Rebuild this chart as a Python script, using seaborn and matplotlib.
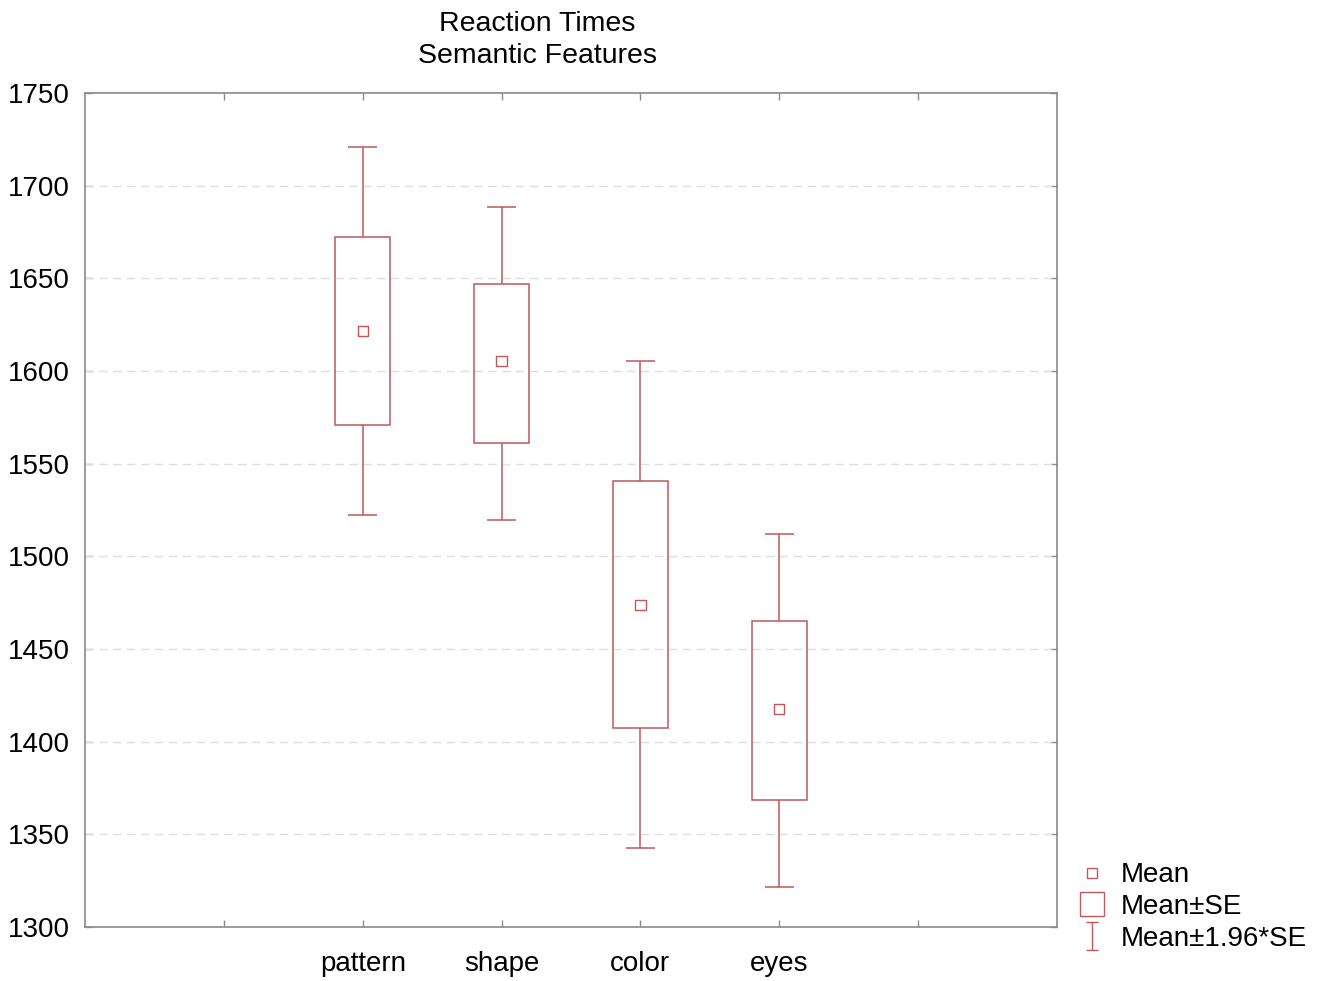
import numpy as np
import pandas as pd
import matplotlib
matplotlib.use("Agg")
import matplotlib.pyplot as plt
import seaborn as sns
from matplotlib.lines import Line2D
from matplotlib.path import Path

features = ["pattern", "shape", "color", "eyes"]
means = [1621.6, 1605.4, 1473.8, 1417.6]
box_low = [1570.9, 1561.1, 1407.4, 1368.5]
box_high = [1672.3, 1646.9, 1540.6, 1465.1]
whisk_low = [1522.3, 1519.6, 1342.6, 1321.6]
whisk_high = [1720.9, 1688.5, 1605.4, 1512.0]

y_ticks = [1300, 1350, 1400, 1450, 1500, 1550, 1600, 1650, 1700, 1750]

red = "#c0575a"
spine_col = "#8a8a8a"

sns.set_style("white")
plt.rcParams["font.family"] = ["Liberation Sans", "DejaVu Sans"]
plt.rcParams["text.color"] = "black"

df = pd.DataFrame({
    "feature": features,
    "mean": means,
    "lo": box_low,
    "hi": box_high,
    "wlo": whisk_low,
    "whi": whisk_high,
})
# categories sit in the middle of a 0..7 axis (STATISTICA style)
df["pos"] = np.arange(len(features)) + 2

fig = plt.figure(figsize=(13.26, 9.81), dpi=100)
ax = fig.add_axes([85 / 1326, 1 - 927 / 981, 972 / 1326, 834 / 981])

# boxes: mean +- SE
ax.bar(
    df["pos"],
    df["hi"] - df["lo"],
    bottom=df["lo"],
    width=0.4,
    fill=False,
    edgecolor=red,
    linewidth=1.1,
    zorder=3,
)

# whiskers: mean +- 1.96*SE
ax.vlines(df["pos"], df["hi"], df["whi"], color=red, linewidth=1.1, zorder=3)
ax.vlines(df["pos"], df["wlo"], df["lo"], color=red, linewidth=1.1, zorder=3)
ax.hlines(df["whi"], df["pos"] - 0.105, df["pos"] + 0.105, color=red, linewidth=1.1, zorder=3)
ax.hlines(df["wlo"], df["pos"] - 0.105, df["pos"] + 0.105, color=red, linewidth=1.1, zorder=3)

# means
sns.scatterplot(
    data=df,
    x="pos",
    y="mean",
    marker="s",
    s=55,
    facecolor="none",
    edgecolor=red,
    linewidth=1.0,
    ax=ax,
    zorder=4,
    legend=False,
)

ax.set_xlim(0, 7)
ax.set_ylim(1300, 1750)
ax.set_yticks(y_ticks)
ax.set_xticks(range(1, 7))
ax.set_xticklabels([""] + features + [""])
ax.set_xlabel("")
ax.set_ylabel("")

for y in y_ticks[1:-1]:
    ax.axhline(y, color="#dedede", linestyle=(0, (6, 4)), linewidth=1.0, zorder=1)

for side in ["left", "right", "top", "bottom"]:
    ax.spines[side].set_visible(True)
    ax.spines[side].set_color(spine_col)
    ax.spines[side].set_linewidth(1.2)

ax.tick_params(
    axis="both",
    direction="in",
    length=5,
    width=1,
    color=spine_col,
    labelsize=20,
    labelcolor="black",
    top=True,
    right=True,
    left=True,
    bottom=True,
)
ax.tick_params(axis="y", pad=11)
ax.tick_params(axis="x", pad=17)

fig.text(537 / 1326, 1 - 40 / 981, "Reaction Times\nSemantic Features",
         ha="center", va="center", fontsize=20.5, linespacing=1.3, color="black")

# legend
whisk_path = Path(
    [(-0.4, 1), (0.4, 1), (0, 1), (0, -1), (-0.4, -1), (0.4, -1)],
    [Path.MOVETO, Path.LINETO, Path.MOVETO, Path.LINETO, Path.MOVETO, Path.LINETO],
)
handles = [
    Line2D([], [], linestyle="none", marker="s", markersize=7,
           markerfacecolor="none", markeredgecolor=red, markeredgewidth=1),
    Line2D([], [], linestyle="none", marker="s", markersize=17,
           markerfacecolor="none", markeredgecolor=red, markeredgewidth=1),
    Line2D([], [], linestyle="none", marker=whisk_path, markersize=20,
           markerfacecolor="none", markeredgecolor=red, markeredgewidth=1),
]
fig.legend(
    handles,
    ["Mean", "Mean±SE", "Mean±1.96*SE"],
    loc="center left",
    bbox_to_anchor=(1078 / 1326, 1 - 907 / 981),
    frameon=False,
    fontsize=20,
    handlelength=1.0,
    handletextpad=0.55,
    labelspacing=0.2,
    borderaxespad=0,
    borderpad=0,
)

fig.savefig("out.png", dpi=100)
